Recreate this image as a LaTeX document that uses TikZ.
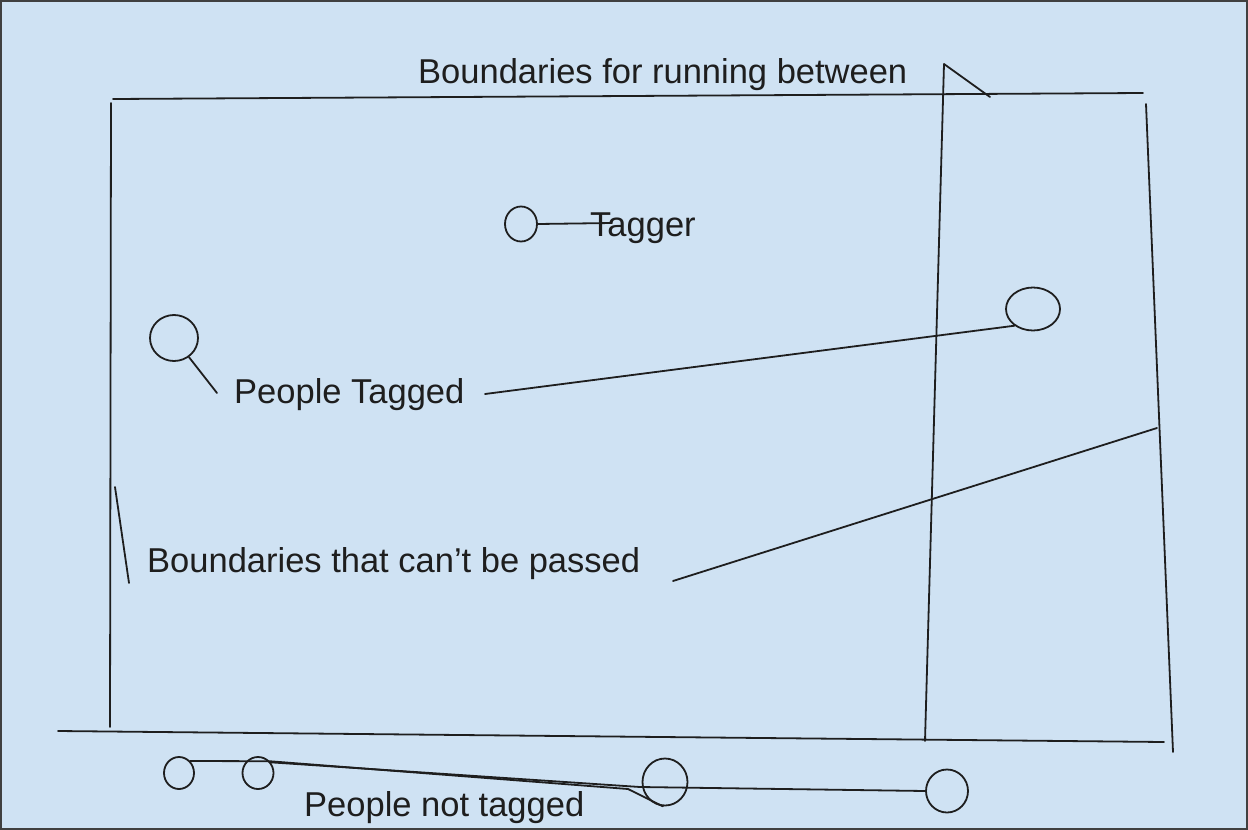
\documentclass[tikz,border=0pt]{standalone}
\usepackage{fontspec}
\setmainfont{Liberation Sans}
\usetikzlibrary{shapes.geometric}
\definecolor{bg}{HTML}{CFE2F3}
\definecolor{ink}{HTML}{1E1E1E}
\definecolor{framecol}{HTML}{404040}
\tikzset{
  person/.style={ellipse, draw=ink, line width=1.8pt, inner sep=0pt},
  lbl/.style={anchor=base west, inner sep=0pt, text=ink, font=\fontsize{34.5}{40}\selectfont},
  edgeline/.style={draw=ink, line width=1.8pt, line join=round, line cap=round},
}
\begin{document}
\begin{tikzpicture}[x=1pt,y=-1pt]
\useasboundingbox (0,0) rectangle (1248,830);
\fill[bg] (0,0) rectangle (1248,830);
\draw[framecol, line width=4pt] (0,0) rectangle (1248,830);

% boundary end points
\coordinate (tl) at (113,99);
\coordinate (tr) at (1143,93);
\coordinate (lt) at (111,103);
\coordinate (lb) at (110,727);
\coordinate (bl) at (58,731);
\coordinate (br) at (1164,742);
\coordinate (rt) at (1146,104);
\coordinate (rb) at (1173,752);
\coordinate (mt) at (944,64);
\coordinate (md) at (990,97);
\coordinate (mb) at (925,741);
\coordinate (s1) at (115,487);
\coordinate (s2) at (129,583);

\draw[edgeline] (tl) -- (tr);
\draw[edgeline] (lt) -- (lb);
\draw[edgeline] (bl) -- (br);
\draw[edgeline] (rt) -- (rb);
\draw[edgeline] (md) -- (mt) -- (mb);
\draw[edgeline] (s1) -- (s2);

% labels
\node[lbl] (trun) at (418,83) {Boundaries for running between};
\node[lbl] (ttag) at (590,236) {Tagger};
\node[lbl] (tpt) at (234,403) {People Tagged};
\node[lbl] (tbnd) at (147,572) {Boundaries that can’t be passed};
\node[lbl] (tnot) at (304,816) {People not tagged};

% people
\node[person, minimum width=32pt, minimum height=35pt] (ptag) at (521,224) {};
\node[person, minimum width=48pt, minimum height=46pt] (pt1) at (174,338) {};
\node[person, minimum width=54pt, minimum height=43pt] (pt2) at (1033,309) {};
\node[person, minimum width=30pt, minimum height=32pt] (pn1) at (179,773) {};
\node[person, minimum width=31pt, minimum height=32pt] (pn2) at (258,773) {};
\node[person, minimum width=45pt, minimum height=47pt] (pn3) at (665,782) {};
\node[person, minimum width=42pt, minimum height=43pt] (pn4) at (947,791) {};

% connectors
\coordinate (tagend) at (612,223);
\coordinate (c1) at (217,393);
\coordinate (c2) at (485,394);
\coordinate (c3) at (673,581);
\coordinate (c4) at (1157,428);
\coordinate (j1) at (628,789);
\coordinate (j2) at (640,787);

\draw[edgeline] (ptag.east) -- (tagend);
\draw[edgeline] (pt1) -- (c1);
\draw[edgeline] (c2) -- (pt2.222);
\draw[edgeline] (c3) -- (c4);
\draw[edgeline] (pn1.47) -- (pn2.45) -- (j1) -- (pn3.265);
\draw[edgeline] (pn2.40) -- (j2) -- (pn4.west);
\end{tikzpicture}
\end{document}
